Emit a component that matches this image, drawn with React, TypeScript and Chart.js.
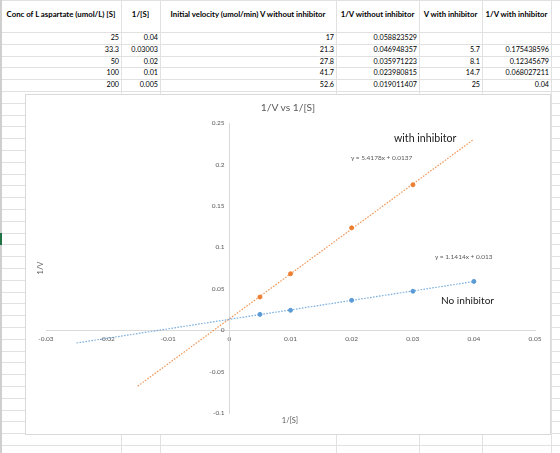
import React, { useEffect, useRef } from 'react';
import { Chart, registerables } from 'chart.js';

Chart.register(...registerables);

// ---- spreadsheet table data ----
const headers = [
  'Conc of L aspartate (umol/L) [S]',
  '1/[S]',
  'Initial velocity (umol/min) V without inhibitor',
  '1/V without inhibitor',
  'V with inhibitor',
  '1/V with inhibitor',
];
const concS = [25, 33.3, 50, 100, 200];
const invS = [0.04, 0.03003, 0.02, 0.01, 0.005];
const vNoInhibitor = [17, 21.3, 27.8, 41.7, 52.6];
const invVNoInhibitor = [0.058823529, 0.046948357, 0.035971223, 0.023980815, 0.019011407];
const vWithInhibitor: (number | null)[] = [null, 5.7, 8.1, 14.7, 25];
const invVWithInhibitor: (number | null)[] = [null, 0.175438596, 0.12345679, 0.068027211, 0.04];

// ---- trendline end points ----
const trendNoX = [-0.025, 0.04];
const trendNoY = [-0.0155, 0.0587];
const trendWithX = [-0.015, 0.04];
const trendWithY = [-0.0676, 0.2304];

// ---- chart texts ----
const chartTitle = '1/V vs 1/[S]';
const xTitle = '1/[S]';
const yTitle = '1/V';
const eqWith = 'y = 5.4178x + 0.0137';
const eqNo = 'y = 1.1414x + 0.013';
const labelWith = 'with inhibitor';
const labelNo = 'No inhibitor';

const FONT = 'Lato, "Open Sans", sans-serif';
const GRID = '#e1e1e1';
const BLUE = '#5B9BD5';
const ORANGE = '#ED7D31';
const BLUE_LINE = 'rgba(91,155,213,0.8)';
const ORANGE_LINE = 'rgba(237,125,49,0.8)';
const TICK = '#595959';

const colEdges = [1, 121, 160, 336, 419, 482, 551];

const fmt = (v: number) => String(Number(Number(v).toFixed(6)));

function ChartCanvas() {
  const ref = useRef<HTMLCanvasElement | null>(null);
  useEffect(() => {
    if (!ref.current) return;
    const tickFont = { family: FONT, size: 6.5 };
    const noPts = invS.map((x, i) => ({ x, y: invVNoInhibitor[i] }));
    const withPts = invS
      .map((x, i) => ({ x, y: invVWithInhibitor[i] }))
      .filter((p) => p.y !== null);
    const chart = new Chart(ref.current, {
      type: 'scatter',
      data: {
        datasets: [
          {
            label: 'trend no',
            data: trendNoX.map((x, i) => ({ x, y: trendNoY[i] })),
            showLine: true,
            borderColor: BLUE_LINE,
            borderWidth: 1.2,
            borderDash: [1.6, 1.4],
            pointRadius: 0,
            order: 3,
          },
          {
            label: 'trend with',
            data: trendWithX.map((x, i) => ({ x, y: trendWithY[i] })),
            showLine: true,
            borderColor: ORANGE_LINE,
            borderWidth: 1.2,
            borderDash: [1.6, 1.4],
            pointRadius: 0,
            order: 3,
          },
          {
            label: 'No inhibitor',
            data: noPts,
            backgroundColor: BLUE,
            borderColor: BLUE,
            borderWidth: 1,
            pointRadius: 2,
            order: 1,
          },
          {
            label: 'with inhibitor',
            data: withPts as any,
            backgroundColor: ORANGE,
            borderColor: ORANGE,
            borderWidth: 1,
            pointRadius: 2,
            order: 1,
          },
        ],
      },
      options: {
        responsive: false,
        animation: false,
        devicePixelRatio: 1,
        layout: { padding: { left: 21, right: 16, top: 29, bottom: 21 } },
        plugins: {
          legend: { display: false },
          title: { display: false },
          tooltip: { enabled: false },
        },
        scales: {
          x: {
            type: 'linear',
            position: { y: 0 } as any,
            min: -0.03,
            max: 0.05,
            ticks: {
              stepSize: 0.01,
              padding: 5,
              autoSkip: false,
              maxRotation: 0,
              font: tickFont,
              color: TICK,
              callback: (v: any) => fmt(v),
            },
            grid: { display: false, drawTicks: false },
            border: { display: true, color: '#d9d9d9', width: 1 },
          },
          y: {
            type: 'linear',
            position: { x: 0 } as any,
            min: -0.1,
            max: 0.25,
            ticks: {
              stepSize: 0.05,
              autoSkip: false,
              font: tickFont,
              color: TICK,
              callback: (v: any) => fmt(v) + '\u2003',
            },
            grid: { display: false, drawTicks: false },
            border: { display: true, color: '#d9d9d9', width: 1 },
          },
        },
      } as any,
    });
    return () => chart.destroy();
  }, []);
  return (
    <canvas
      ref={ref}
      width={526}
      height={340}
      style={{ position: 'absolute', left: 0, top: 0, width: 526, height: 340 }}
    />
  );
}

function Txt(props: {
  x: number;
  y: number;
  text: string;
  size: number;
  color?: string;
  bold?: boolean;
  align?: 'left' | 'center' | 'right';
  rotate?: boolean;
}) {
  const { x, y, text, size, color = '#000', bold, align = 'left', rotate } = props;
  const tx = align === 'center' ? '-50%' : align === 'right' ? '-100%' : '0';
  return (
    <div
      style={{
        position: 'absolute',
        left: x,
        top: y,
        transform: `translate(${tx}, -50%)` + (rotate ? ' rotate(-90deg)' : ''),
        fontFamily: FONT,
        fontSize: size,
        fontWeight: bold ? 700 : 400,
        color,
        whiteSpace: 'nowrap',
        lineHeight: 1.2,
      }}
    >
      {text}
    </div>
  );
}

export default function App() {
  const rowLines: number[] = [0];
  for (let k = 0; 32 + 11.8 * k < 453; k++) rowLines.push(32 + 11.8 * k);
  const rowCenters = [0, 1, 2, 3, 4].map((i) => 32 + 11.8 * i + 5.9);
  const columns: (number | null)[][] = [
    concS,
    invS,
    vNoInhibitor,
    invVNoInhibitor,
    vWithInhibitor,
    invVWithInhibitor,
  ];
  return (
    <div
      style={{
        position: 'absolute',
        left: 0,
        top: 0,
        width: 560,
        height: 453,
        overflow: 'hidden',
        background: '#fff',
      }}
    >
      {rowLines.map((y, i) => (
        <div
          key={'r' + i}
          style={{ position: 'absolute', left: 0, top: Math.round(y), width: 560, height: 1, background: GRID }}
        />
      ))}
      {colEdges.map((x, i) => (
        <div
          key={'c' + i}
          style={{
            position: 'absolute',
            left: i === 0 ? 0 : x,
            top: 0,
            width: i === 0 ? 2 : 1,
            height: 453,
            background: i === 0 ? '#cfcfcf' : GRID,
          }}
        />
      ))}
      <div style={{ position: 'absolute', left: 0, top: 233, width: 2, height: 12, background: '#217346' }} />
      {headers.map((h, i) => (
        <Txt
          key={'h' + i}
          x={(colEdges[i] + colEdges[i + 1]) / 2}
          y={15}
          text={h}
          size={7.8}
          bold
          align="center"
        />
      ))}
      {columns.map((col, c) =>
        col.map((v, r) =>
          v === null ? null : (
            <Txt
              key={'v' + c + '_' + r}
              x={colEdges[c + 1] - 2}
              y={rowCenters[r]}
              text={String(v)}
              size={7.2}
              align="right"
            />
          )
        )
      )}
      <div
        style={{
          position: 'absolute',
          left: 25,
          top: 94,
          width: 526,
          height: 340,
          background: '#fff',
        }}
      >
        <ChartCanvas />
        <div
          style={{
            position: 'absolute',
            left: 0,
            top: 0,
            width: 526,
            height: 341,
            boxSizing: 'border-box',
            border: '1px solid #d9d9d9',
            pointerEvents: 'none',
          }}
        />
      </div>
      <Txt x={288} y={107} text={chartTitle} size={10.3} color={TICK} align="center" />
      <Txt x={40} y={268} text={yTitle} size={7.5} color={TICK} align="center" rotate />
      <Txt x={290} y={420} text={xTitle} size={7.5} color={TICK} align="center" />
      <Txt x={394} y={138} text={labelWith} size={10.6} color="#1a1a1a" />
      <Txt x={351} y={158} text={eqWith} size={6.5} color={TICK} />
      <Txt x={435} y={257} text={eqNo} size={6.5} color={TICK} />
      <Txt x={441} y={300} text={labelNo} size={10.1} color="#1a1a1a" />
    </div>
  );
}
